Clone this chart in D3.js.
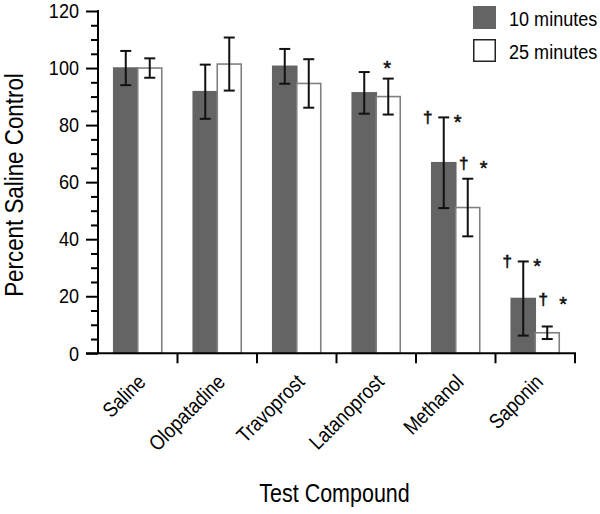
<!DOCTYPE html>
<html>
<head>
<meta charset="utf-8">
<script src="https://cdn.jsdelivr.net/npm/d3@7"></script>
<style>
  html, body { margin: 0; padding: 0; background: #fff; }
  svg { display: block; }
  .narrow { font-family: "Liberation Sans", Arial, sans-serif; }
</style>
</head>
<body>
<svg id="chart" width="600" height="514"></svg>
<script>
// ---- data ----
const categories = ["Saline", "Olopatadine", "Travoprost", "Latanoprost", "Methanol", "Saponin"];
const seriesNames = ["10 minutes", "25 minutes"];
const values10 = [100, 91.7, 100.6, 91.3, 66.8, 19.2];
const errors10 = [6, 9.5, 6.1, 7.3, 15.9, 13];
const values25 = [100, 101.4, 94.6, 90.0, 51.1, 7.2];
const errors25 = [3.4, 9.3, 8.5, 6.3, 10.1, 2.2];
const yTicksMajor = [0, 20, 40, 60, 80, 100, 120];
const daggers10 = ["Methanol", "Saponin"];
const stars10 = ["Methanol", "Saponin"];
const daggers25 = ["Methanol", "Saponin"];
const stars25 = ["Latanoprost", "Methanol", "Saponin"];
const xTitle = "Test Compound";
const yTitle = "Percent Saline Control";

(function () {
// ---- layout ----
const svg = d3.select("#chart");
const mLeft = 98, mRight = 575, mTop = 11, mBottom = 353.3;
const fillDark = "#646464";
const K = 0.86; // horizontal condensing of text (narrow sans look)

const x = d3.scaleBand().domain(categories).range([mLeft, mRight]).padding(0);
const xs = d3.scaleBand().domain(seriesNames).range([-24, 24]).padding(0);
const y = d3.scaleLinear().domain([0, 120]).range([mBottom, mTop]);

const rows = [];
categories.forEach((c, i) => {
  rows.push({cat: c, s: seriesNames[0], v: values10[i], e: errors10[i]});
  rows.push({cat: c, s: seriesNames[1], v: values25[i], e: errors25[i]});
});
const cx = d => x(d.cat) + x.bandwidth() / 2;

// bars
svg.append("g").selectAll("rect").data(rows).join("rect")
  .attr("x", d => cx(d) + xs(d.s))
  .attr("y", d => y(d.v))
  .attr("width", xs.bandwidth())
  .attr("height", d => mBottom - y(d.v))
  .attr("fill", d => d.s === seriesNames[0] ? fillDark : "#fff")
  .attr("stroke", d => d.s === seriesNames[0] ? fillDark : "#808080")
  .attr("stroke-width", 1.6);

// error bars
const eg = svg.append("g").attr("stroke", "#111").attr("stroke-width", 2).attr("fill", "none");
rows.forEach(d => {
  const mx = cx(d) + xs(d.s) + xs.bandwidth() / 2;
  const y1 = y(d.v + d.e), y2 = y(d.v - d.e);
  eg.append("line").attr("x1", mx).attr("x2", mx).attr("y1", y1).attr("y2", y2);
  eg.append("line").attr("x1", mx - 5.5).attr("x2", mx + 5.5).attr("y1", y1).attr("y2", y1);
  eg.append("line").attr("x1", mx - 5.5).attr("x2", mx + 5.5).attr("y1", y2).attr("y2", y2);
});

// significance markers
const ag = svg.append("g").attr("font-family", "'Liberation Sans', Arial, sans-serif")
  .attr("fill", "#111").attr("stroke", "#111");
rows.forEach(d => {
  const isDark = d.s === seriesNames[0];
  const hasDagger = (isDark ? daggers10 : daggers25).includes(d.cat);
  const hasStar = (isDark ? stars10 : stars25).includes(d.cat);
  if (!hasDagger && !hasStar) return;
  const bx0 = cx(d) + xs(d.s), bx1 = bx0 + xs.bandwidth();
  const errTop = y(d.v + d.e);
  let yRef;
  if (isDark) yRef = errTop;
  else {
    const i = categories.indexOf(d.cat);
    yRef = Math.min(errTop - 16, y(values10[i]));
  }
  const base = yRef + 6;
  const star = (sx) => ag.append("text").attr("x", sx).attr("y", base + 6)
      .attr("font-size", 20).attr("stroke-width", 0.5)
      .attr("text-anchor", "middle").text("*");
  if (hasDagger && hasStar) {
    ag.append("text").attr("x", isDark ? bx0 - 4 : bx0 + 8).attr("y", base)
      .attr("font-size", 17).attr("stroke-width", 0.6)
      .attr("text-anchor", "middle").text("\u2020");
    star(isDark ? bx1 + 2 : bx1 + 4);
  } else if (hasStar) {
    star((bx0 + bx1) / 2 - 1);
  }
});

// y axis
const yAxis = svg.append("g").attr("transform", `translate(${mLeft},0)`)
  .call(d3.axisLeft(y).tickValues(yTicksMajor).tickSize(12).tickPadding(7).tickFormat(d3.format("d")));
yAxis.select(".domain").remove();
yAxis.selectAll(".tick line").attr("stroke", "#000").attr("stroke-width", 2);
yAxis.selectAll(".tick text")
  .attr("class", "narrow").attr("font-size", 21).attr("fill", "#000")
  .attr("transform", `translate(-19,0) scale(${K},1)`).attr("x", 0);

const minorTicks = d3.range(5, 120, 5).filter(v => !yTicksMajor.includes(v));
const yMinor = svg.append("g").attr("transform", `translate(${mLeft},0)`)
  .call(d3.axisLeft(y).tickValues(minorTicks).tickSize(7).tickFormat(""));
yMinor.select(".domain").remove();
yMinor.selectAll(".tick line").attr("stroke", "#000").attr("stroke-width", 2);

svg.append("line").attr("x1", mLeft).attr("x2", mLeft).attr("y1", y(120) - 1).attr("y2", mBottom)
  .attr("stroke", "#000").attr("stroke-width", 2);

// x axis
svg.append("line").attr("x1", mLeft - 12).attr("x2", mRight + 1).attr("y1", mBottom).attr("y2", mBottom)
  .attr("stroke", "#000").attr("stroke-width", 2);
svg.append("g").selectAll("line").data(categories).join("line")
  .attr("x1", d => x(d) + x.bandwidth()).attr("x2", d => x(d) + x.bandwidth())
  .attr("y1", mBottom).attr("y2", mBottom + 10)
  .attr("stroke", "#000").attr("stroke-width", 2);

svg.append("g").selectAll("text").data(categories).join("text")
  .attr("class", "narrow")
  .attr("font-size", 21)
  .attr("text-anchor", "end")
  .attr("transform", d => `translate(${x(d) + x.bandwidth() / 2 + 9},${mBottom + 30}) rotate(-45) scale(${K},1)`)
  .text(d => d);

// axis titles
svg.append("text").attr("class", "narrow").attr("font-size", 25)
  .attr("text-anchor", "middle")
  .attr("transform", `translate(${(mLeft + mRight) / 2 - 2},502) scale(${K},1)`).text(xTitle);
svg.append("text").attr("class", "narrow").attr("font-size", 26)
  .attr("text-anchor", "middle")
  .attr("transform", `translate(23,185) rotate(-90) scale(${K},1)`).text(yTitle);

// legend
const lg = svg.append("g").attr("transform", "translate(473,6)");
seriesNames.forEach((s, i) => {
  lg.append("rect").attr("x", i === 0 ? 0 : 0.75).attr("y", i * 33 + (i === 0 ? 0 : 0.75))
    .attr("width", i === 0 ? 23 : 21.5).attr("height", i === 0 ? 23 : 21.5)
    .attr("fill", i === 0 ? fillDark : "#fff")
    .attr("stroke", i === 0 ? "none" : "#222").attr("stroke-width", 1.5);
  lg.append("text").attr("class", "narrow").attr("font-size", 21)
    .attr("transform", `translate(36,${i * 33 + 19.5}) scale(${K},1)`).text(s);
});
})();
</script>
</body>
</html>
